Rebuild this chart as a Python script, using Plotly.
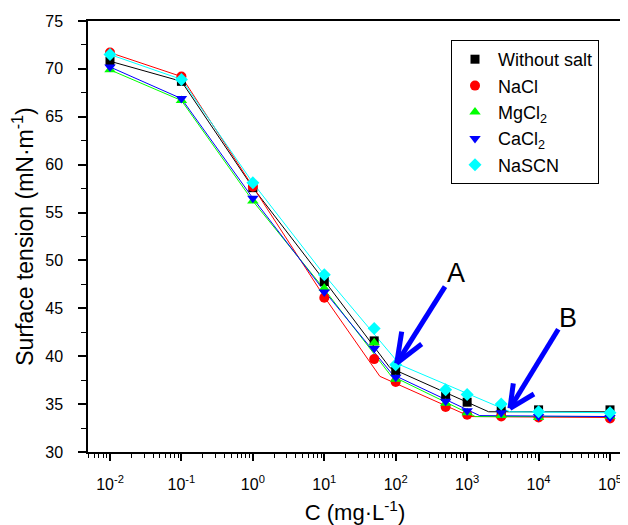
import plotly.graph_objects as go

# ---------------- data ----------------
conc = [0.01, 0.1, 1, 10, 50, 100, 500, 1000, 3000, 10000, 100000]

without_salt = [70.8, 68.7, 57.6, 47.8, 41.6, 38.4, 35.8, 35.2, 34.3, 34.4, 34.4]
nacl = [71.7, 69.2, 57.7, 46.1, 39.7, 37.3, 34.7, 33.9, 33.7, 33.6, 33.5]
mgcl2 = [69.9, 66.7, 56.2, 47.1, 41.4, 37.6, 35.1, 34.1, 33.8, 33.6, 33.7]
cacl2 = [70.2, 66.9, 56.5, 46.7, 40.8, 37.8, 35.3, 34.3, 34.1, 33.7, 33.6]
nascn = [71.5, 68.9, 58.1, 48.5, 42.9, 39.1, 36.5, 36.0, 35.0, 34.2, 34.1]

# fitted piecewise lines (knots)
without_salt_fit_x = [0.01, 0.1, 1, 10, 83, 2000, 100000]
without_salt_fit_y = [70.8, 68.7, 57.6, 47.9, 38.8, 34.2, 34.2]
nacl_fit_x = [0.01, 0.1, 1, 10, 60, 1100, 100000]
nacl_fit_y = [71.7, 69.2, 57.7, 46.2, 37.9, 33.7, 33.6]
mgcl2_fit_x = [0.01, 0.1, 1, 10, 85, 1300, 100000]
mgcl2_fit_y = [69.9, 66.7, 56.2, 47.0, 38.0, 33.7, 33.7]
cacl2_fit_x = [0.01, 0.1, 1, 10, 90, 1500, 100000]
cacl2_fit_y = [70.2, 66.9, 56.5, 46.8, 38.1, 33.8, 33.7]
nascn_fit_x = [0.01, 0.1, 1, 10, 115, 4000, 100000]
nascn_fit_y = [71.5, 68.9, 58.1, 48.5, 39.1, 34.2, 34.1]

x_tickvals = [0.01, 0.1, 1, 10, 100, 1000, 10000, 100000]
x_ticktext = ["10<sup>-2</sup>", "10<sup>-1</sup>", "10<sup>0</sup>", "10<sup>1</sup>",
              "10<sup>2</sup>", "10<sup>3</sup>", "10<sup>4</sup>", "10<sup>5</sup>"]

FONT = "Liberation Sans"

series = [
    ("Without salt", without_salt, without_salt_fit_x, without_salt_fit_y, "black", "square", 9),
    ("NaCl", nacl, nacl_fit_x, nacl_fit_y, "#FF0000", "circle", 10),
    ("MgCl<sub>2</sub>", mgcl2, mgcl2_fit_x, mgcl2_fit_y, "#00FF00", "triangle-up", 10),
    ("CaCl<sub>2</sub>", cacl2, cacl2_fit_x, cacl2_fit_y, "#0000FF", "triangle-down", 10),
    ("NaSCN", nascn, nascn_fit_x, nascn_fit_y, "#00FFFF", "diamond", 10),
]

fig = go.Figure()
for name, vals, fx, fy, col, sym, sz in series:
    fig.add_trace(go.Scatter(x=fx, y=fy, mode="lines", line=dict(color=col, width=1),
                             showlegend=False, hoverinfo="skip"))
for name, vals, fx, fy, col, sym, sz in series:
    fig.add_trace(go.Scatter(x=conc, y=vals, mode="markers", name=name,
                             marker=dict(color=col, symbol=sym, size=sz, line=dict(width=0))))

# ---------------- layout ----------------
# the page body adds an 8 px offset; figure sized so the plot area lands at
# screen x 88..622, y 21..452
W, H = 620, 517
L, R, T, B = 80, 6, 13, 73
SX0, SX1, SY0, SY1 = 88, 622, 21, 452


def px(xp, yp):
    return (xp - SX0) / (SX1 - SX0), (SY1 - yp) / (SY1 - SY0)


shapes = []
arrows = [
    [(445, 286.7), (396.7, 363.3)],
    [(396.7, 363.3), (401.7, 331.7)],
    [(396.7, 363.3), (421.7, 344)],
    [(558.3, 329.3), (510, 408.3)],
    [(510, 408.3), (513.3, 383.3)],
    [(510, 408.3), (534, 394)],
]
for (a, b) in arrows:
    x0, y0 = px(*a)
    x1, y1 = px(*b)
    shapes.append(dict(type="line", xref="paper", yref="paper", x0=x0, y0=y0, x1=x1, y1=y1,
                       line=dict(color="#0000FF", width=5)))

ax_, ay_ = px(456, 273)
bx_, by_ = px(567.5, 317.5)
annotations = [
    dict(text="A", x=ax_, y=ay_, xref="paper", yref="paper", showarrow=False,
         xanchor="center", yanchor="middle",
         font=dict(size=27, color="black", family=FONT)),
    dict(text="B", x=bx_, y=by_, xref="paper", yref="paper", showarrow=False,
         xanchor="center", yanchor="middle",
         font=dict(size=27, color="black", family=FONT)),
]

lx, ly = px(451, 40)

minor_x = [m * 10 ** e for e in range(-3, 6) for m in range(2, 10)]

fig.update_layout(
    width=W, height=H,
    margin=dict(l=L, r=R, t=T, b=B, autoexpand=False),
    paper_bgcolor="white", plot_bgcolor="white",
    font=dict(family=FONT, color="black"),
    shapes=shapes, annotations=annotations,
    legend=dict(x=lx, y=ly, xanchor="left", yanchor="top", itemwidth=36,
                bgcolor="white", bordercolor="black", borderwidth=1,
                font=dict(size=18, family=FONT), tracegroupgap=0),
    xaxis=dict(type="log", range=[-2.308, 5.168], automargin=False,
               tickmode="array", tickvals=x_tickvals, ticktext=x_ticktext,
               ticks="outside", ticklen=7, tickwidth=1.5, tickcolor="black",
               showline=True, linecolor="black", linewidth=1.5, mirror=True,
               showgrid=False, zeroline=False, ticklabelstandoff=10,
               tickfont=dict(size=16, family=FONT),
               minor=dict(tickmode="array", tickvals=minor_x, ticks="outside",
                          ticklen=4, tickwidth=1, tickcolor="black", showgrid=False),
               title=dict(text="C (mg·L<sup>-1</sup>)", font=dict(size=22, family=FONT), standoff=16)),
    yaxis=dict(range=[30, 75], tickmode="linear", tick0=30, dtick=5, automargin=False,
               ticks="outside", ticklen=8, tickwidth=1.5, tickcolor="black",
               showline=True, linecolor="black", linewidth=1.5, mirror=True,
               showgrid=False, zeroline=False, ticklabelstandoff=12,
               tickfont=dict(size=16, family=FONT),
               minor=dict(dtick=2.5, ticks="outside", ticklen=5, tickwidth=1,
                          tickcolor="black", showgrid=False),
               title=dict(text="Surface tension (mN·m<sup>-1</sup>)",
                          font=dict(size=23, family=FONT), standoff=8)),
)

fig.write_html("out.html")
